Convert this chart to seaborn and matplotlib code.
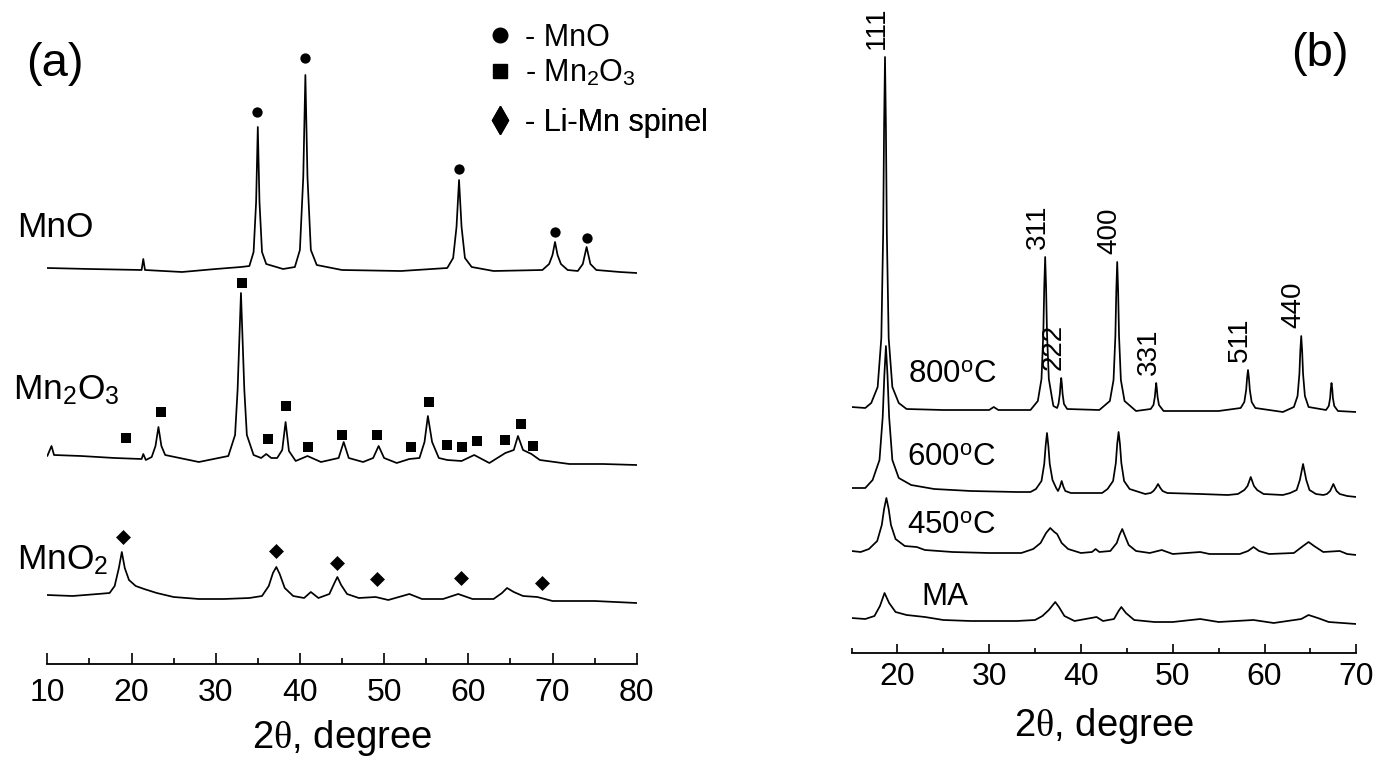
import matplotlib
matplotlib.use("Agg")
import matplotlib.pyplot as plt
from matplotlib.lines import Line2D
from matplotlib.ticker import MultipleLocator
import pandas as pd
import seaborn as sns


# ---------------------------------------------------------------- data (a)
# 2theta (deg) and intensity (a.u., counted from each pattern's own baseline)
mno_tt = [10, 15, 21.2, 21.4, 21.6, 26, 30, 33, 34.0, 34.5, 34.8, 35.0, 35.2,
          35.5, 36.0, 38, 39.4, 40.0, 40.4, 40.65, 40.9, 41.3, 42.0, 45, 52,
          57.5, 58.2, 58.6, 58.9, 59.2, 59.6, 60.4, 63, 68.8, 69.6, 70.0, 70.3,
          70.6, 71.0, 71.8, 73.0, 73.6, 74.05, 74.5, 75.2, 78, 80]
mno_int = [4, 3, 2, 13, 2, 0, 3, 5, 6, 20, 70, 145, 70,
           20, 8, 3, 5, 22, 95, 197, 95, 22, 7, 2, 1,
           4, 14, 45, 92, 45, 14, 5, 1, 2, 8, 17, 30,
           17, 8, 2, 1, 8, 25, 8, 2, 0, -1]

mn2o3_tt = [10.0, 10.5, 10.8, 14, 18, 21.2, 21.4, 21.7, 22.4, 22.85, 23.2,
            23.55, 24.0, 28, 31.5, 32.3, 32.6, 33.0, 33.4, 33.7, 34.5, 35.4,
            36.0, 36.6, 37.3, 37.9, 38.3, 38.7, 39.5, 40.9, 42.5, 44.6, 45.2,
            45.8, 47.5, 48.7, 49.35, 50.0, 51.5, 53.0, 54.2, 54.8, 55.2, 55.7,
            56.5, 57.5, 59.2, 60.7, 62.5, 64.4, 65.4, 65.9, 66.5, 67.5, 68.5,
            72, 76, 80]
mn2o3_int = [4, 14, 5, 4, 2, 1, 6, 0, 3, 14, 33,
             14, 5, -2, 4, 25, 70, 167, 70, 25, 5, 2,
             6, 2, 2, 10, 38, 9, -1, 4, -2, 2, 18,
             2, -2, 2, 14, 2, -3, 1, 2, 18, 44, 18,
             2, 0, -1, 5, -3, 7, 10, 24, 10, 6, 0,
             -4, -4, -5]

mno2_tt = [10, 13, 16, 17.4, 18.0, 18.5, 18.85, 19.2, 19.7, 20.5, 21.5, 23,
           25, 28, 31, 34, 35.5, 36.3, 36.8, 37.2, 37.6, 38.2, 39.2, 40.5,
           41.3, 42.2, 43.5, 44.1, 44.45, 44.9, 45.6, 47, 49, 50.5, 53, 54.5,
           57, 58.8, 60.5, 63, 64.0, 64.6, 65.4, 66.5, 68.2, 70, 75, 80]
mno2_int = [3, 2, 4, 5, 12, 30, 46, 30, 18, 12, 9, 5,
            1, -1, -1, 0, 2, 12, 25, 31, 24, 10, 2, 0,
            6, 0, 4, 15, 21, 13, 4, 0, 1, -2, 4, -1,
            -1, 4, -1, -1, 5, 10, 6, 2, 1, -3, -3, -5]

# phase markers (2theta, height above baseline)
mno_mark_tt = [34.9, 40.6, 58.95, 70.3, 74.1]
mno_mark_int = [160, 214, 103, 40, 34]
mn2o3_mark_tt = [19.3, 23.5, 33.1, 36.2, 38.4, 41.0, 45.0, 49.2, 53.2, 55.35,
                 57.5, 59.2, 61.0, 64.4, 66.2, 67.7]
mn2o3_mark_int = [22, 48, 177, 21, 54, 13, 25, 25, 13, 58,
                  15, 13, 19, 20, 36, 14]
mno2_mark_tt = [19.0, 37.2, 44.45, 49.2, 59.1, 68.7]
mno2_mark_int = [61, 47, 35, 19, 20, 15]

legend_labels = ["- MnO", "- Mn$_2$O$_3$", "- Li-Mn spinel"]
sample_labels = ["MnO", "Mn$_2$O$_3$", "MnO$_2$"]

# ---------------------------------------------------------------- data (b)
t800_tt = [15.0, 16.5, 17.15, 17.85, 18.25, 18.45, 18.55, 18.65, 18.75, 18.85,
           19.05, 19.45, 20.15, 21, 25, 30, 30.5, 31, 34.5, 35.3, 35.7, 35.9,
           36.0, 36.1, 36.2, 36.3, 36.5, 36.9, 37.0, 37.4, 37.55, 37.7, 37.78,
           37.85, 37.92, 38.0, 38.15, 38.5, 42, 43.15, 43.55, 43.75, 43.85,
           43.95, 44.05, 44.15, 44.35, 44.75, 46, 47.6, 47.9, 48.05, 48.13,
           48.2, 48.27, 48.35, 48.5, 49, 55, 57.4, 57.8, 58.0, 58.1, 58.2,
           58.3, 58.4, 58.6, 59.0, 62, 63.2, 63.6, 63.8, 63.9, 64.0, 64.1,
           64.2, 64.4, 64.8, 66.7, 67.0, 67.15, 67.22, 67.3, 67.38, 67.45,
           67.6, 68.0, 70.0]
t800_int = [2, 1, 6, 22, 71, 176, 282, 352, 282, 176,
            71, 22, 6, 0, -1, -1, 2, -1, -1, 8, 30, 76,
            122, 152, 122, 76, 30, 8, 3, 1, 5, 15, 25,
            31, 25, 15, 5, 0, -1, 8, 29, 73, 118,
            147, 118, 73, 29, 8, -2, 0, 4, 12, 20,
            26, 20, 12, 4, -2, -2, 1, 7, 19, 31, 39,
            31, 19, 7, 1, -3, 2, 13, 35, 58, 73, 58,
            35, 13, 2, -1, 3, 11, 20, 26, 20, 11,
            3, -2, -3]

t600_tt = [15, 16.5, 17.3, 18.05, 18.4, 18.58, 18.75, 18.92, 19.1, 19.45,
           20.15, 21.5, 24, 28, 33, 34.5, 35.1, 35.7, 36.0, 36.15, 36.3, 36.45,
           36.6, 36.9, 37.3, 37.5, 37.7, 37.9, 38.1, 38.3, 38.9, 42.3, 42.9,
           43.5, 43.8, 43.95, 44.1, 44.25, 44.4, 44.7, 45.3, 47, 47.6, 47.9,
           48.15, 48.4, 48.65, 48.9, 49.4, 53, 56, 57.1, 57.8, 58.15, 58.5,
           58.85, 59.2, 59.9, 62, 62.8, 63.5, 63.85, 64.2, 64.55, 64.9, 65.6,
           66.4, 66.8, 67.15, 67.5, 67.85, 68.2, 69, 70]
t600_int = [2, 2, 10, 30, 73, 115, 144, 115, 73, 30,
            12, 5, 1, -1, -2, -2, 1, 9, 26, 44, 57, 44,
            26, 10, 2, -1, 3, 9, 3, -1, -3, -3, 1,
            9, 27, 46, 58, 46, 27, 9, 1, -4, -3, -1,
            2, 6, 2, -1, -3, -4, -5, -4, 0, 4, 13,
            4, 0, -4, -5, -3, 0, 10, 26, 10, 0, -4,
            -5, -4, -1, 6, -1, -4, -6, -7]

t450_tt = [15, 16, 16.9, 17.8, 18.3, 18.55, 18.8, 19.05, 19.3, 19.8, 20.8,
           22.1, 23, 26, 30, 33.5, 34.8, 35.6, 36.2, 36.65, 37.1, 37.4, 37.9,
           38.6, 40, 41.2, 41.6, 42.0, 43.2, 43.9, 44.2, 44.5, 44.8, 45.2, 46,
           47.5, 48.8, 50, 53, 54, 57.3, 58.2, 58.8, 59.4, 60.5, 63.2, 64.2,
           64.8, 65.4, 66.4, 68.2, 69, 70]
t450_int = [1, 0, 3, 11, 27, 43, 54, 43, 27, 13, 6,
            5, 2, 0, -1, -1, 3, 9, 19, 24, 20, 18, 9,
            3, -1, 0, 3, 0, 1, 9, 17, 23, 16, 7, 1,
            -1, 2, -2, 0, -2, -2, 1, 5, 1, -2, -1, 6,
            10, 6, 0, 1, -2, -3]

ma_tt = [15, 16.5, 17.5, 18.1, 18.6, 19.1, 19.8, 21, 23, 25, 28, 33, 35.0,
         35.8, 36.5, 37.2, 37.6, 38.2, 39.3, 41.7, 42.4, 43.6, 44.1, 44.4,
         44.9, 45.8, 48, 50, 53, 55, 58.8, 61, 64.0, 64.8, 65.8, 67, 70]
ma_int = [2, 1, 4, 14, 27, 17, 8, 5, 3, 0, -1, -1, 0,
          4, 10, 18, 13, 4, -1, 3, -1, 1, 9, 13,
          7, 0, -2, -2, 1, -2, 0, -3, 1, 5, 2, -2, -4]

hkl_labels = ["111", "311", "222", "400", "331", "511", "440"]
hkl_tt = [18.65, 36.1, 37.85, 43.95, 48.2, 58.2, 64.0]

temp_labels = ["800$^{\\rm o}$C", "600$^{\\rm o}$C", "450$^{\\rm o}$C", "MA"]

# ---------------------------------------------------------------- layout
W, H = 1377, 762
A_AXIS_Y, B_AXIS_Y = 663.5, 652.7           # axis line rows (px from top)
A_OFFSETS = [391.5, 203.5, 65.5]            # baseline lift of each pattern
B_OFFSETS = [243.7, 162.7, 100.7, 32.7]


def draw_trace(ax, tt, counts, offset):
    df = pd.DataFrame({"tt": tt, "y": [c + offset for c in counts]})
    sns.lineplot(data=df, x="tt", y="y", ax=ax, color="black", lw=1.25,
                 estimator=None, sort=False)


def draw_marks(ax, tt, counts, offset, marker, size):
    df = pd.DataFrame({"tt": tt, "y": [c + offset for c in counts]})
    sns.scatterplot(data=df, x="tt", y="y", ax=ax, marker=marker, s=size,
                    color="black", linewidth=0, zorder=3)


def style_axis(ax, lo, hi, top, pad, labelpad, major_len, minor_len):
    ax.set_xlim(lo, hi)
    ax.set_ylim(0, top)
    ax.set_yticks([])
    ax.set_ylabel("")
    ax.xaxis.set_major_locator(MultipleLocator(10))
    ax.xaxis.set_minor_locator(MultipleLocator(5))
    ax.tick_params(axis="x", which="major", direction="in", length=major_len,
                   width=1.2, labelsize=23, pad=pad, colors="black")
    ax.tick_params(axis="x", which="minor", direction="in", length=minor_len,
                   width=1.2, colors="black")
    ax.set_xlabel("2$\\theta$, degree", fontsize=27.5, labelpad=labelpad)
    sns.despine(ax=ax, left=True)
    ax.spines["bottom"].set_linewidth(1.3)
    ax.spines["bottom"].set_color("black")
    ax.patch.set_alpha(0)


sns.set_style("ticks")
plt.rcParams["font.family"] = ["Liberation Sans", "DejaVu Sans"]
plt.rcParams["text.color"] = "black"
plt.rcParams["axes.labelcolor"] = "black"
plt.rcParams["mathtext.fontset"] = "custom"
plt.rcParams["mathtext.rm"] = "Liberation Sans"
plt.rcParams["mathtext.it"] = "Liberation Serif"
plt.rcParams["mathtext.bf"] = "Liberation Sans:bold"

fig = plt.figure(figsize=(W / 100, H / 100), dpi=100)

ax_a = fig.add_axes([47.3 / W, (H - A_AXIS_Y) / H, 589.4 / W, A_AXIS_Y / H])
ax_b = fig.add_axes([851.5 / W, (H - B_AXIS_Y) / H, 504.8 / W, B_AXIS_Y / H])

# ---- panel (a)
draw_trace(ax_a, mno_tt, mno_int, A_OFFSETS[0])
draw_trace(ax_a, mn2o3_tt, mn2o3_int, A_OFFSETS[1])
draw_trace(ax_a, mno2_tt, mno2_int, A_OFFSETS[2])
draw_marks(ax_a, mno_mark_tt, mno_mark_int, A_OFFSETS[0], "o", 55)
draw_marks(ax_a, mn2o3_mark_tt, mn2o3_mark_int, A_OFFSETS[1], "s", 58)
draw_marks(ax_a, mno2_mark_tt, mno2_mark_int, A_OFFSETS[2], "D", 58)
style_axis(ax_a, 10, 80, A_AXIS_Y, pad=10.5, labelpad=7,
           major_len=8, minor_len=4.3)

# one legend per row so each row sits where the original puts it
handles = [
    Line2D([], [], ls="none", marker="o", ms=10.5, color="black"),
    Line2D([], [], ls="none", marker="s", ms=10, color="black"),
    Line2D([], [], ls="none", marker="d", ms=14, color="black"),
]
legend_rows = [38, 73, 123]
for handle, lab, row in zip(handles, legend_labels, legend_rows):
    leg = ax_a.legend([handle], [lab], loc="center left",
                      bbox_to_anchor=(488 / W, 1 - row / H),
                      bbox_transform=fig.transFigure, frameon=False,
                      fontsize=22, handlelength=0.8, handletextpad=0.41,
                      borderpad=0, borderaxespad=0)
    ax_a.add_artist(leg)

fig.text(26 / W, 1 - 76 / H, "(a)", fontsize=34, va="baseline")
sample_rows = [237, 400, 570]
sample_x = [17, 13, 17]
for lab, row, x in zip(sample_labels, sample_rows, sample_x):
    fig.text(x / W, 1 - row / H, lab, fontsize=25.5, va="baseline")

# ---- panel (b)
b_traces = [(t800_tt, t800_int), (t600_tt, t600_int), (t450_tt, t450_int),
            (ma_tt, ma_int)]
for (tt, counts), off in zip(b_traces, B_OFFSETS):
    draw_trace(ax_b, tt, counts, off)
style_axis(ax_b, 15, 70, B_AXIS_Y, pad=6.5, labelpad=10,
           major_len=6.5, minor_len=3.4)

for lab, pos in zip(hkl_labels, hkl_tt):
    top = max(c for t, c in zip(t800_tt, t800_int) if abs(t - pos) < 0.3)
    ax_b.annotate(lab, xy=(pos, top + B_OFFSETS[0]), xytext=(-5.5, 6),
                  textcoords="offset points", rotation=90, ha="center",
                  va="bottom", fontsize=20)

temp_rows = [383, 466, 534, 605]
temp_x = [908, 907, 907, 921]
for lab, row, x in zip(temp_labels, temp_rows, temp_x):
    fig.text(x / W, 1 - row / H, lab, fontsize=22.5, va="baseline")

fig.text(1291 / W, 1 - 66 / H, "(b)", fontsize=34, va="baseline")

fig.savefig("out.png", dpi=100)
